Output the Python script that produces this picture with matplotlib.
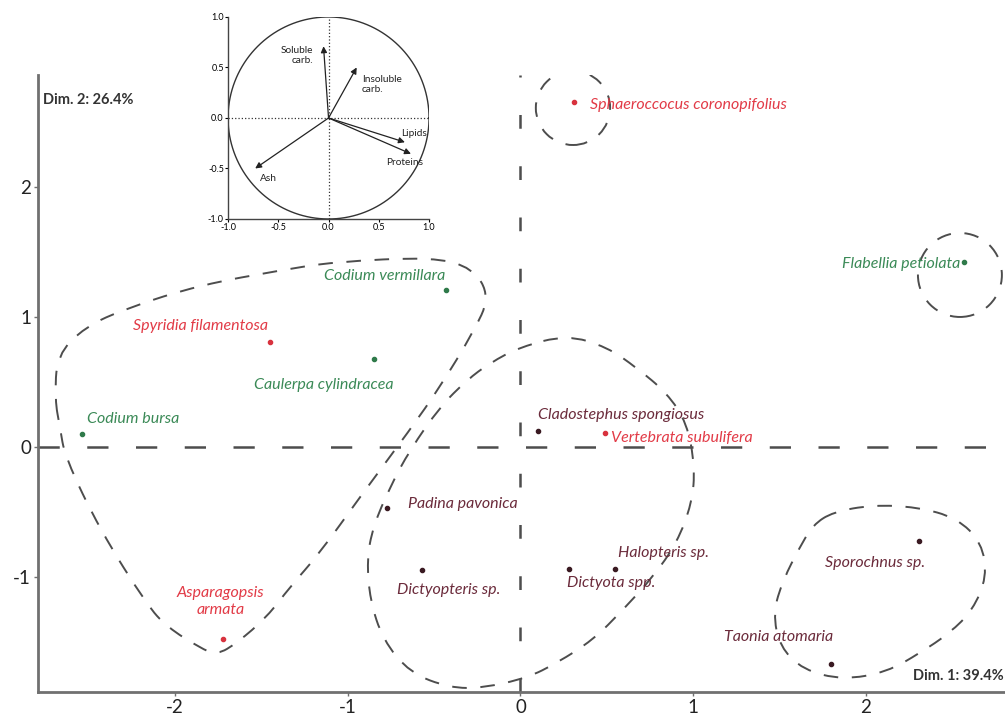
import matplotlib
matplotlib.use("Agg")
import matplotlib.pyplot as plt
import numpy as np
from matplotlib.path import Path
from matplotlib.patches import PathPatch, Ellipse

plt.rcParams['font.family'] = ['Lato', 'DejaVu Sans']
plt.rcParams['axes.unicode_minus'] = False

# species scores on the first two dimensions
species = ['Sphaeroccocus coronopifolius', 'Flabellia petiolata', 'Codium vermillara',
           'Spyridia filamentosa', 'Caulerpa cylindracea', 'Codium bursa',
           'Cladostephus spongiosus', 'Vertebrata subulifera', 'Padina pavonica',
           'Dictyopteris sp.', 'Dictyota spp.', 'Halopteris sp.', 'Sporochnus sp.',
           'Taonia atomaria', 'Asparagopsis\narmata']
dim1 = [0.31, 2.57, -0.43, -1.45, -0.85, -2.54, 0.10, 0.49, -0.77, -0.57, 0.28, 0.55, 2.31, 1.80, -1.72]
dim2 = [2.65, 1.42, 1.21, 0.81, 0.68, 0.10, 0.12, 0.11, -0.47, -0.95, -0.94, -0.94, -0.72, -1.67, -1.48]
group = ['red', 'green', 'green', 'red', 'green', 'green', 'brown', 'red', 'brown',
         'brown', 'brown', 'brown', 'brown', 'brown', 'red']

# variables (correlation circle)
variables = ['Soluble\ncarb.', 'Insoluble\ncarb.', 'Lipids', 'Proteins', 'Ash']
var_x = [-0.05, 0.28, 0.76, 0.82, -0.73]
var_y = [0.71, 0.50, -0.24, -0.355, -0.50]

# hand drawn group outlines
left_x = [-2.695, -2.683, -2.521, -2.278, -1.855, -1.375, -1.085, -0.507, -0.275, -0.177,
          -0.275, -0.466, -0.640, -0.929, -1.161, -1.334, -1.467, -1.641, -1.757, -1.855,
          -2.046, -2.162, -2.434, -2.637, -2.666]
left_y = [0.362, 0.708, 0.923, 1.069, 1.246, 1.362, 1.423, 1.462, 1.377, 1.154,
          0.877, 0.462, 0.131, -0.385, -0.815, -1.077, -1.308, -1.508, -1.600, -1.546,
          -1.385, -1.215, -0.638, -0.077, 0.154]
mid_x = [0.269, 0.501, 0.674, 0.848, 0.964, 1.010, 0.993, 0.906, 0.767, 0.593, 0.420, 0.211,
         0.038, -0.217, -0.408, -0.640, -0.796, -0.871, -0.889, -0.854, -0.755, -0.640,
         -0.466, -0.310, -0.177, -0.003]
mid_y = [0.862, 0.769, 0.608, 0.415, 0.185, -0.154, -0.431, -0.738, -1.000, -1.254, -1.485,
         -1.662, -1.777, -1.854, -1.854, -1.738, -1.485, -1.177, -0.869, -0.615, -0.308,
         -0.023, 0.308, 0.515, 0.646, 0.769]
right_x = [1.809, 2.041, 2.295, 2.527, 2.671, 2.700, 2.619, 2.486, 2.313, 2.122, 1.867,
           1.636, 1.502, 1.462, 1.520, 1.618, 1.693]
right_y = [-0.500, -0.446, -0.462, -0.546, -0.738, -1.000, -1.254, -1.431, -1.585, -1.731,
           -1.792, -1.715, -1.538, -1.277, -1.023, -0.769, -0.600]

colors = {'red': '#e23b47', 'green': '#3b8a57', 'brown': '#6b2b3b'}
dot_colors = {'red': '#d8323e', 'green': '#2f7a4a', 'brown': '#3a1a22'}

# label placement (offset in points, alignment)
label_pos = {
    'Sphaeroccocus coronopifolius': (11.5, -1.5, 'left'),
    'Flabellia petiolata': (-3, -1.5, 'right'),
    'Codium vermillara': (-1, 9.5, 'right'),
    'Spyridia filamentosa': (-1.5, 11.5, 'right'),
    'Caulerpa cylindracea': (-36, -19, 'center'),
    'Codium bursa': (3.5, 11, 'left'),
    'Cladostephus spongiosus': (0, 12, 'left'),
    'Vertebrata subulifera': (4.5, -3.5, 'left'),
    'Padina pavonica': (14.5, 3, 'left'),
    'Dictyopteris sp.': (-18, -14, 'left'),
    'Dictyota spp.': (-1.5, -10, 'left'),
    'Halopteris sp.': (1.5, 11.5, 'left'),
    'Sporochnus sp.': (-32, -16.5, 'center'),
    'Taonia atomaria': (-38, 19.5, 'center'),
    'Asparagopsis\narmata': (-2, 27, 'center'),
}


def outline(xs, ys):
    pts = np.column_stack([xs, ys])
    mids = (pts + np.roll(pts, -1, axis=0)) / 2
    verts = [mids[-1]]
    codes = [Path.MOVETO]
    for i in range(len(pts)):
        verts += [pts[i], mids[i]]
        codes += [Path.CURVE3, Path.CURVE3]
    return Path(verts, codes)


fig = plt.figure(figsize=(10.05, 7.22), dpi=100)
ax = fig.add_axes([0.0378, 0.0416, 0.9622, 0.8546])
ax.set_xlim(-2.793, 2.805)
ax.set_ylim(-1.885, 2.862)

for s in ['top', 'right']:
    ax.spines[s].set_visible(False)
for s in ['left', 'bottom']:
    ax.spines[s].set_color('#707070')
    ax.spines[s].set_linewidth(2)
ax.set_xticks([-2, -1, 0, 1, 2])
ax.set_yticks([-1, 0, 1, 2])
ax.tick_params(length=3, width=1, color='#707070', labelsize=13.5, labelcolor='#222222', pad=2)

ax.axhline(0, color='#4d4d4d', lw=1.8, ls=(0, (8.5, 11)), zorder=1)
ax.axvline(0, color='#4d4d4d', lw=1.8, ls=(0, (5.5, 15)), zorder=1)

env_style = dict(fill=False, edgecolor='#4d4d4d', lw=1.4, ls=(0, (7.5, 7)), zorder=2)
for xs, ys in [(left_x, left_y), (mid_x, mid_y), (right_x, right_y)]:
    ax.add_patch(PathPatch(outline(xs, ys), **env_style))
ax.add_patch(Ellipse((0.304, 2.608), 0.43, 0.57, **env_style))
ax.add_patch(Ellipse((2.544, 1.323), 0.486, 0.646, clip_on=True, **env_style))

for name, x, y, g in zip(species, dim1, dim2, group):
    ax.plot(x, y, 'o', ms=3, color=dot_colors[g], zorder=4)
    dx, dy, ha = label_pos[name]
    ax.annotate(name, (x, y), xytext=(dx, dy), textcoords='offset points',
                ha=ha, va='center', style='italic', fontsize=11.5,
                color=colors[g], linespacing=1.3, zorder=5)

ax.text(0.005, 0.96, 'Dim. 2: 26.4%', transform=ax.transAxes, fontsize=10.5,
        fontweight='bold', color='#333333', ha='left', va='center')
ax.text(0.999, 0.015, 'Dim. 1: 39.4%', transform=ax.transAxes, fontsize=10.5,
        fontweight='bold', color='#333333', ha='right', va='bottom')

# correlation circle inset
ins = fig.add_axes([0.2269, 0.6967, 0.2, 0.2798])
ins.set_xlim(-1, 1)
ins.set_ylim(-1, 1)
for s in ['top', 'right']:
    ins.spines[s].set_visible(False)
for s in ['left', 'bottom']:
    ins.spines[s].set_linewidth(1)
    ins.spines[s].set_color('#444444')
ins.set_xticks([-1.0, -0.5, 0.0, 0.5, 1.0])
ins.set_yticks([-1.0, -0.5, 0.0, 0.5, 1.0])
ins.tick_params(length=2, width=0.8, labelsize=6.5, pad=1)
ins.patch.set_alpha(0)
t = np.linspace(0, 2 * np.pi, 300)
ins.plot(np.cos(t), np.sin(t), color='#333333', lw=1)
ins.axhline(0, color='#333333', lw=0.9, ls=':')
ins.axvline(0, color='#333333', lw=0.9, ls=':')
for vx, vy in zip(var_x, var_y):
    ins.annotate('', xy=(vx, vy), xytext=(0, 0),
                 arrowprops=dict(arrowstyle='-|>', color='#222222', lw=0.9,
                                 mutation_scale=9, shrinkA=0, shrinkB=0))
var_pos = [(-0.15, 0.62, 'right'), (0.33, 0.33, 'left'), (0.72, -0.15, 'left'),
           (0.57, -0.44, 'left'), (-0.68, -0.60, 'left')]
for name, (px, py, ha) in zip(variables, var_pos):
    ins.text(px, py, name, fontsize=7.3, ha=ha, va='center', multialignment=ha,
             color='#222222', linespacing=1.05)

fig.savefig('out.png', dpi=100)
